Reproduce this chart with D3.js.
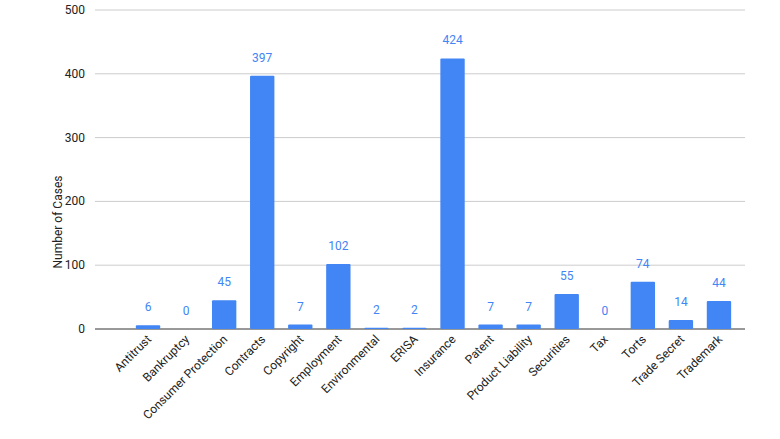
<!DOCTYPE html>
<html><head><meta charset="utf-8">
<script src="https://cdn.jsdelivr.net/npm/d3@7"></script>
<style>body{margin:0;background:#fff}</style></head>
<body><svg id="c" width="780" height="439"></svg>
<script>
const categories=["Antitrust","Bankruptcy","Consumer Protection","Contracts","Copyright","Employment","Environmental","ERISA","Insurance","Patent","Product Liability","Securities","Tax","Torts","Trade Secret","Trademark"];
const values=[6,0,45,397,7,102,2,2,424,7,7,55,0,74,14,44];
const yTicks=[0,100,200,300,400,500];
const svg=d3.select("#c");
const font="Roboto, Arial, sans-serif";
const x=d3.scaleBand().domain(categories).range([129,738]).paddingInner(0.36).paddingOuter(0.18);
const y=d3.scaleLinear().domain([0,500]).range([329,10]);
svg.append("g").selectAll("line").data(yTicks).join("line")
 .attr("x1",95).attr("x2",745).attr("y1",d=>y(d)).attr("y2",d=>y(d))
 .attr("stroke",d=>d===0?"#333":"#ccc").attr("stroke-width",1);
svg.append("g").selectAll("text").data(yTicks).join("text")
 .attr("x",85).attr("y",d=>y(d)+4).attr("text-anchor","end")
 .attr("font-family",font).attr("font-size",12).attr("fill","#222").text(d=>d);
svg.append("text").attr("transform","translate(62,222) rotate(-90)").attr("text-anchor","middle")
 .attr("font-family",font).attr("font-size",12).attr("fill","#222").text("Number of Cases");
svg.append("g").selectAll("rect").data(values).join("rect")
 .attr("x",(d,i)=>x(categories[i])).attr("width",x.bandwidth())
 .attr("y",d=>y(d)).attr("height",d=>y(0)-y(d)).attr("fill","#4285F4").attr("rx",1);
svg.append("g").selectAll("text").data(values).join("text")
 .attr("x",(d,i)=>x(categories[i])+x.bandwidth()/2).attr("y",d=>y(d)-14)
 .attr("text-anchor","middle").attr("font-family",font).attr("font-size",12).attr("fill","#4285F4").text(d=>d);
svg.append("g").selectAll("text").data(categories).join("text")
 .attr("transform",d=>`translate(${x(d)+x.bandwidth()/2+4},${340}) rotate(-45)`)
 .attr("text-anchor","end").attr("font-family",font).attr("font-size",12).attr("fill","#222").text(d=>d);
</script></body></html>
